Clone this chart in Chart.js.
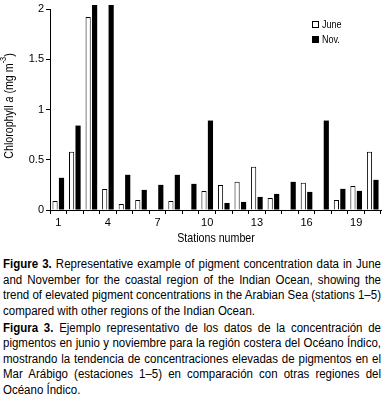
<!DOCTYPE html>
<html>
<head>
<meta charset="utf-8">
<script src="https://cdn.jsdelivr.net/npm/chart.js@4"></script>
<style>
  html, body { margin: 0; padding: 0; background: #fff; }
  body { width: 384px; height: 399px; position: relative; overflow: hidden; }
  #wrap { position: absolute; left: 0; top: 0; width: 384px; height: 250px; }
  #caption { position: absolute; left: 3px; top: 257px; width: 378px;
    font-family: "Liberation Sans", Arial, sans-serif;
    font-size: 12.5px; line-height: 15.5px; color: #000; transform-origin: 0 0; }
  #caption .l { text-align: justify; text-align-last: justify; white-space: nowrap; }
  #caption .e { text-align: left; white-space: nowrap; }
  #caption .p2 { margin-top: 1.5px; }
  #caption span.m { display: inline-block; }
</style>
</head>
<body>
<div id="wrap"><canvas id="chart"></canvas></div>
<div id="caption">
  <div class="l"><b>Figure 3.</b> Representative example of pigment concentration data in June</div>
  <div class="l">and November for the coastal region of the Indian Ocean, showing the</div>
  <div class="l">trend of elevated pigment concentrations in the Arabian Sea (stations 1–5)</div>
  <div class="e">compared with other regions of the Indian Ocean.</div>
  <div class="l p2"><b>Figura 3.</b> Ejemplo representativo de los datos de la concentración de</div>
  <div class="l">pigmentos en junio y noviembre para la región costera del Océano Índico,</div>
  <div class="l">mostrando la tendencia de concentraciones elevadas de pigmentos en el</div>
  <div class="l">Mar Arábigo (estaciones 1–5) en comparación con otras regiones del</div>
  <div class="e">Océano Índico.</div>
</div>
<script>
'use strict';
const FONT = '"Liberation Sans", Arial, sans-serif';
const NARROW = 0.82; // reference uses a narrow face, squeeze our text to match

// stations 1..20
const stations = ['1','2','3','4','5','6','7','8','9','10','11','12','13','14','15','16','17','18','19','20'];
// Chlorophyll a (mg m-3); null = no bar. 3 and 4 in Nov. run past the top of the axis
const june = [0.09, 0.58, 1.92, 0.21, 0.06, 0.10, null, 0.09, null, 0.19, 0.25, 0.28, 0.43, 0.12, null, 0.27, null, 0.10, 0.24, 0.58];
const nov  = [0.32, 0.84, 2.04, 2.04, 0.35, 0.20, 0.25, 0.35, 0.26, 0.89, 0.07, 0.08, 0.13, 0.16, 0.28, 0.18, 0.89, 0.21, 0.19, 0.30];
const yTicks = [0, 0.5, 1, 1.5, 2];

// fit the caption: measure the widest line and squeeze the block horizontally
(function fitCaption() {
  const $cap = document.getElementById('caption');
  const lines = $cap.querySelectorAll('.l');
  let widest = 0;
  lines.forEach(l => {
    const s = document.createElement('span');
    s.className = 'm';
    s.innerHTML = l.innerHTML;
    l.innerHTML = '';
    l.appendChild(s);
    widest = Math.max(widest, s.getBoundingClientRect().width);
    l.innerHTML = s.innerHTML;
  });
  const k = 378 / widest;
  $cap.style.width = (378 / k) + 'px';
  $cap.style.transform = 'scaleX(' + k + ')';
})();

function narrowText(ctx, text, x, y) {
  ctx.save();
  ctx.translate(x, y);
  ctx.scale(NARROW, 1);
  ctx.fillText(text, 0, 0);
  ctx.restore();
}

// y title with italic "a" and superscript, x title, legend
const extras = {
  id: 'extras',
  afterDraw(chart) {
    const ctx = chart.ctx;
    ctx.save();
    ctx.fillStyle = '#000';
    ctx.textBaseline = 'middle';

    // y axis title
    const parts = [
      { t: 'Chlorophyll ', f: '13px ' + FONT, dy: 0 },
      { t: 'a', f: 'italic 13px ' + FONT, dy: 0 },
      { t: ' (mg m', f: '13px ' + FONT, dy: 0 },
      { t: '-3', f: '9px ' + FONT, dy: -5 },
      { t: ')', f: '13px ' + FONT, dy: 0 }
    ];
    let total = 0;
    parts.forEach(p => { ctx.font = p.f; p.w = ctx.measureText(p.t).width; total += p.w; });
    ctx.translate(9, 106);
    ctx.rotate(-Math.PI / 2);
    ctx.scale(NARROW, 1);
    let x = -total / 2;
    ctx.textAlign = 'left';
    parts.forEach(p => { ctx.font = p.f; ctx.fillText(p.t, x, p.dy); x += p.w; });
    ctx.setTransform(1, 0, 0, 1, 0, 0);

    // x axis title
    ctx.font = '13px ' + FONT;
    ctx.textAlign = 'center';
    narrowText(ctx, 'Stations number', 216, 238);

    // legend
    ctx.font = '11px ' + FONT;
    ctx.textAlign = 'left';
    ctx.lineWidth = 1;
    ctx.strokeStyle = '#000';
    ctx.fillStyle = '#fff';
    ctx.fillRect(312.5, 21.5, 6, 6);
    ctx.strokeRect(312.5, 21.5, 6, 6);
    ctx.fillStyle = '#000';
    ctx.fillRect(312, 36, 7, 7);
    narrowText(ctx, 'June', 322, 25);
    narrowText(ctx, 'Nov.', 322, 40);
    ctx.restore();
  }
};

new Chart(document.getElementById('chart'), {
  type: 'bar',
  data: {
    labels: stations,
    datasets: [
      { label: 'June', data: june, backgroundColor: '#fff', borderColor: '#000', borderWidth: 1,
        categoryPercentage: 0.78, barPercentage: 0.8, clip: false },
      { label: 'Nov.', data: nov, backgroundColor: '#000', borderColor: '#000', borderWidth: 0,
        categoryPercentage: 0.78, barPercentage: 0.8, clip: false }
    ]
  },
  options: {
    responsive: true,
    maintainAspectRatio: false,
    animation: false,
    layout: { padding: { top: 9, right: 3, left: 0, bottom: 0 } },
    plugins: { legend: { display: false }, tooltip: { enabled: false } },
    scales: {
      x: {
        offset: true,
        grid: { offset: true, drawOnChartArea: false, drawTicks: true, tickLength: 4, color: '#000' },
        border: { color: '#000', width: 1 },
        ticks: {
          autoSkip: false, maxRotation: 0, padding: 2, color: '#000',
          font: { family: FONT, size: 11 },
          callback: (v, i) => (i % 3 === 0 ? stations[i] : '')
        },
        afterFit: s => { s.height = 40; }
      },
      y: {
        min: 0, max: 2,
        grid: { drawOnChartArea: false, drawTicks: true, tickLength: 4, color: '#000' },
        border: { color: '#000', width: 1 },
        afterBuildTicks: s => { s.ticks = yTicks.map(v => ({ value: v })); },
        ticks: { color: '#000', padding: 2, font: { family: FONT, size: 11 }, callback: v => String(v) },
        afterFit: s => { s.width = 50; }
      }
    }
  },
  plugins: [extras]
});
</script>
</body>
</html>
